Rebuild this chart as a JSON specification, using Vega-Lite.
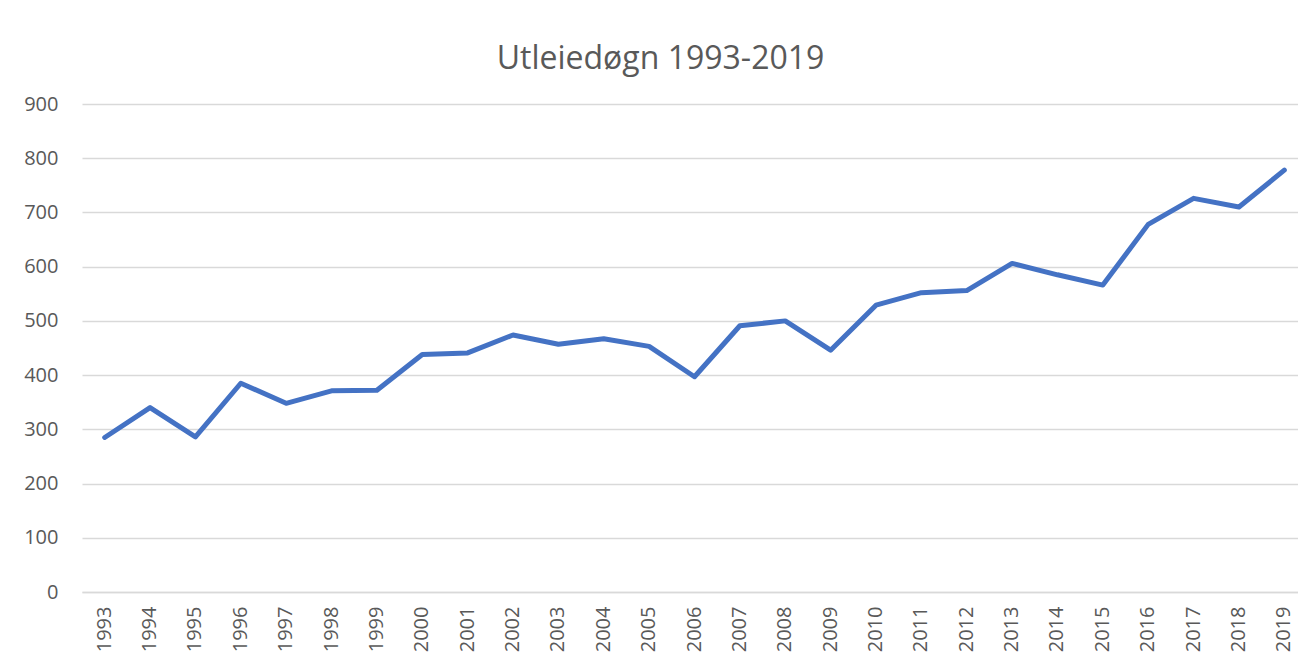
{
  "$schema": "https://vega.github.io/schema/vega-lite/v6.json",
  "width": 1225,
  "height": 488,
  "autosize": "none",
  "padding": {"left": 82, "top": 104, "right": 0, "bottom": 73},
  "background": "white",
  "title": {
    "text": "Utleiedøgn 1993-2019",
    "font": "Open Sans",
    "fontSize": 32,
    "fontWeight": "normal",
    "color": "#595959",
    "anchor": "middle",
    "dx": -34,
    "offset": 18
  },
  "config": {
    "view": {"stroke": null},
    "axis": {
      "labelFont": "Open Sans",
      "labelFontSize": 20,
      "labelColor": "#595959",
      "ticks": false,
      "domain": false,
      "title": null
    }
  },
  "data": {
    "values": [
      {"year": "1993", "value": 285},
      {"year": "1994", "value": 340},
      {"year": "1995", "value": 286},
      {"year": "1996", "value": 385},
      {"year": "1997", "value": 348},
      {"year": "1998", "value": 371},
      {"year": "1999", "value": 372},
      {"year": "2000", "value": 438},
      {"year": "2001", "value": 441},
      {"year": "2002", "value": 474},
      {"year": "2003", "value": 457},
      {"year": "2004", "value": 467},
      {"year": "2005", "value": 453},
      {"year": "2006", "value": 397},
      {"year": "2007", "value": 491},
      {"year": "2008", "value": 500},
      {"year": "2009", "value": 446},
      {"year": "2010", "value": 529},
      {"year": "2011", "value": 552},
      {"year": "2012", "value": 556},
      {"year": "2013", "value": 606},
      {"year": "2014", "value": 585},
      {"year": "2015", "value": 566},
      {"year": "2016", "value": 678},
      {"year": "2017", "value": 726},
      {"year": "2018", "value": 710},
      {"year": "2019", "value": 778}
    ]
  },
  "mark": {"type": "line", "color": "#4472C4", "strokeWidth": 5, "strokeCap": "round", "strokeJoin": "round"},
  "encoding": {
    "x": {
      "field": "year",
      "type": "ordinal",
      "scale": {"type": "band", "paddingInner": 0, "paddingOuter": 0},
      "axis": {
        "labelAngle": -90,
        "labelAlign": "right",
        "labelBaseline": "middle",
        "labelPadding": 14,
        "labelBound": false,
        "labelOverlap": false,
        "grid": false,
        "domain": true,
        "domainColor": "#d9d9d9",
        "domainWidth": 1.5
      }
    },
    "y": {
      "field": "value",
      "type": "quantitative",
      "scale": {"domain": [0, 900]},
      "axis": {
        "values": [0, 100, 200, 300, 400, 500, 600, 700, 800, 900],
        "grid": true,
        "gridColor": "#d9d9d9",
        "gridWidth": 1.5,
        "labelPadding": 24
      }
    }
  }
}
